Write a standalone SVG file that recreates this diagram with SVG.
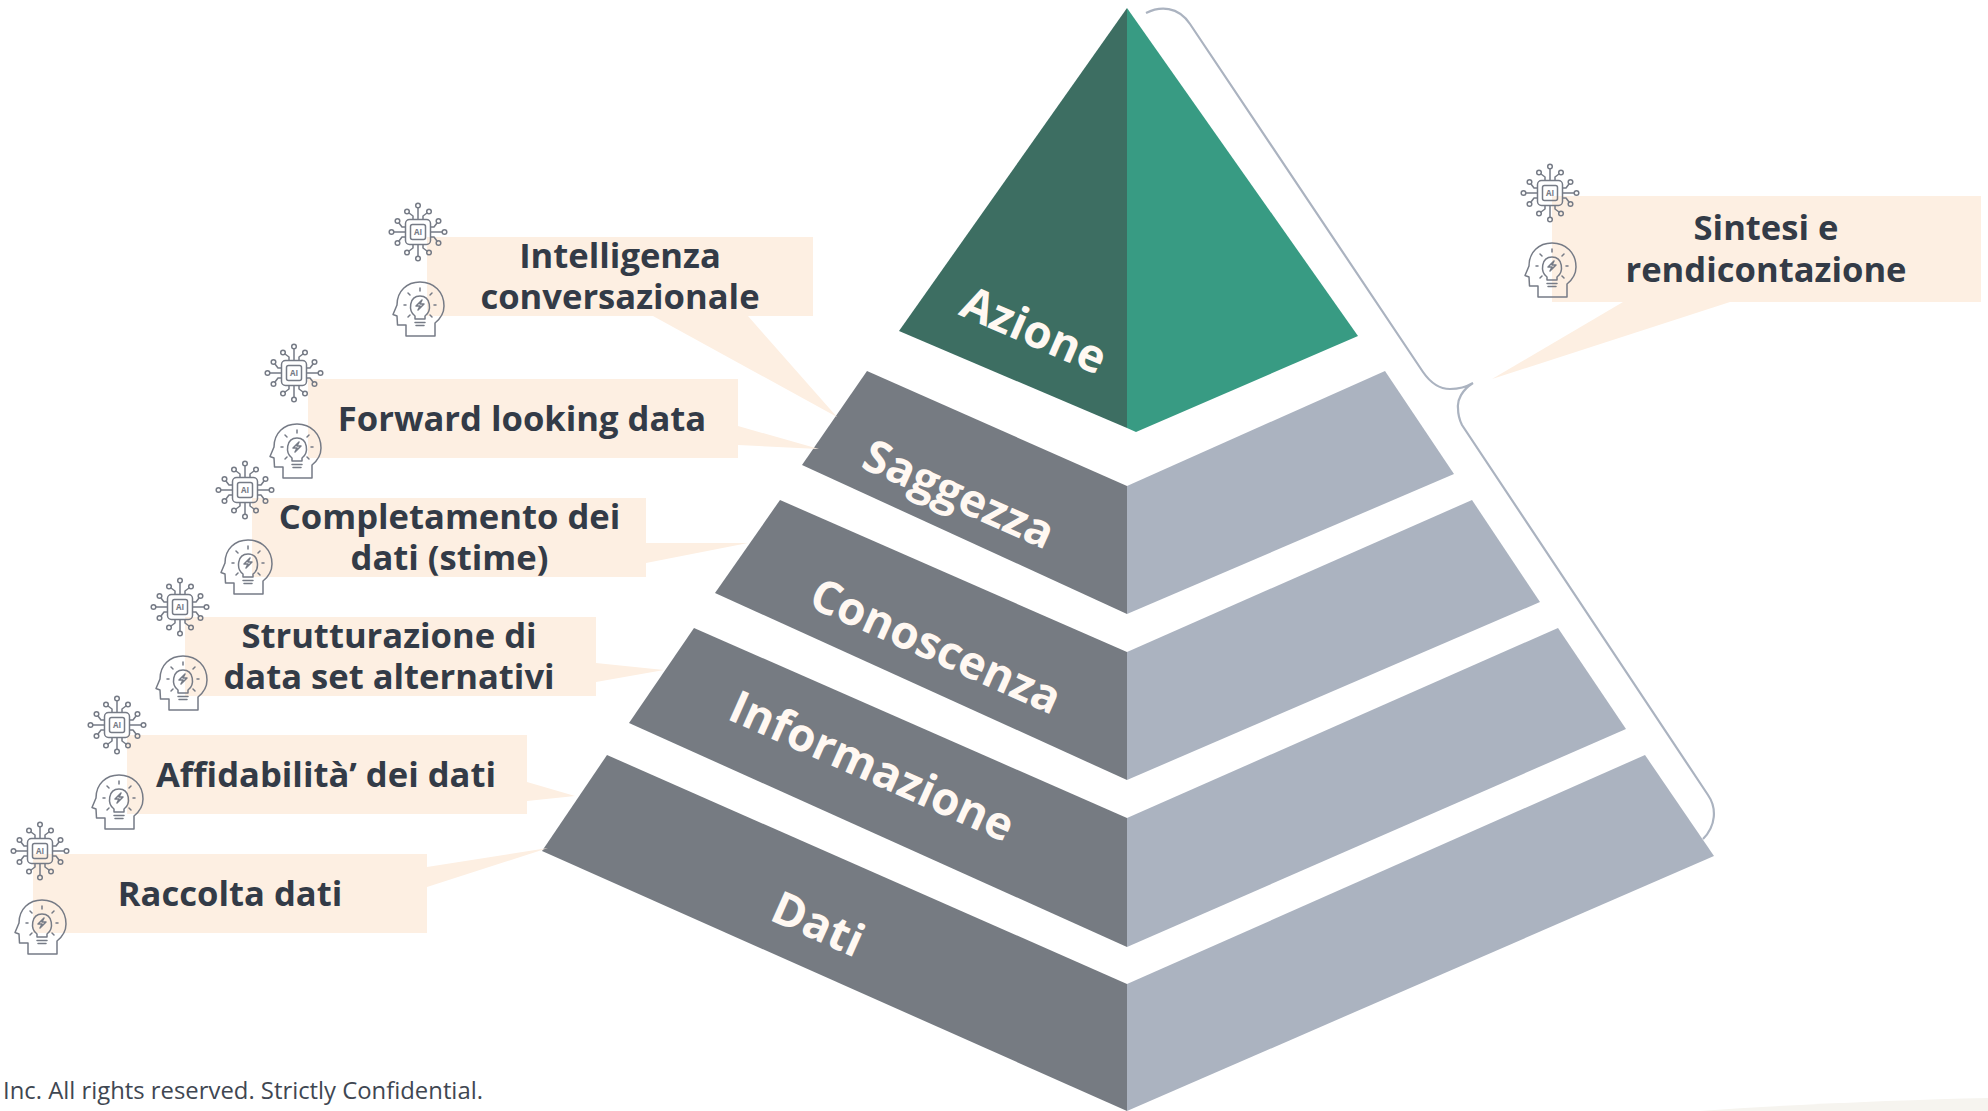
<svg xmlns="http://www.w3.org/2000/svg" xmlns:xlink="http://www.w3.org/1999/xlink" width="1988" height="1111" viewBox="0 0 1988 1111">
<style>
.box,.tail{fill:#fdefe2}
.dk{fill:#767b82}
.lt{fill:#abb3c0}
.t{font-family:"Open Sans","Noto Sans","Liberation Sans",sans-serif;font-weight:700;font-size:34.6px;fill:#333b47;text-anchor:middle}
.p{font-family:"Open Sans","Noto Sans","Liberation Sans",sans-serif;font-weight:700;font-size:45.7px;fill:#fff8f2;text-anchor:middle}
.f{font-family:"Open Sans","Noto Sans","Liberation Sans",sans-serif;font-size:23.85px;fill:#3f4752}
.ic{fill:none;stroke:#767b86;stroke-width:1.5;stroke-linejoin:round;stroke-linecap:round}
.ai{font-family:"Open Sans","Liberation Sans",sans-serif;font-size:8px;font-weight:700;fill:#767b86;text-anchor:middle}
.br{fill:none;stroke:#abb3c0;stroke-width:2.2}
</style>
<defs>
<g id="trace">
<path d="M0,-13V-24M-5,-13V-16L-9,-19M5,-13V-16L9,-19"/>
<circle cx="0" cy="-26.5" r="2.3"/><circle cx="-11" cy="-20.5" r="2.3"/><circle cx="11" cy="-20.5" r="2.3"/>
</g>
<g id="chip" class="ic">
<rect x="-12.5" y="-12.5" width="25" height="25" rx="4"/>
<rect x="-7.5" y="-7.5" width="15" height="15" rx="2"/>
<use xlink:href="#trace" href="#trace"/>
<use xlink:href="#trace" href="#trace" transform="rotate(90)"/>
<use xlink:href="#trace" href="#trace" transform="rotate(180)"/>
<use xlink:href="#trace" href="#trace" transform="rotate(270)"/>
<text class="ai" y="3" stroke="none">AI</text>
</g>
<g id="head" class="ic">
<path d="M-14,31V20H-22.500L-23,11L-27,9.500L-23,0C-23,-14 -13,-23 0,-23C14,-23 24,-13 24,1C24,9 20,14 15,18V31Z"/>
<path d="M-5,11C-12,6 -11,-9 0,-9C11,-9 12,6 5,11V14H-5ZM-5,17.500H5M-4,20.500H4"/>
<path d="M2,-5L-4,1H0L-2,5L4,-1H0Z"/>
<path d="M0,-14V-17M-10,-10L-12,-12M10,-10L12,-12M-14,0H-16M14,0H16M-10,10L-12,12M10,10L12,12"/>
</g>
</defs>
<rect width="1988" height="1111" fill="#fff"/>
<path d="M1700,1111C1800,1104 1900,1100 1988,1098V1111Z" fill="#f6f4ef"/>

<g id="azione">
<polygon fill="#3d6e62" points="1127,8 899,331 1127,428"/>
<polygon fill="#389b83" points="1127,8 1127,428 1136,432 1358,336"/>
<text class="p" transform="translate(1034,330) rotate(23.500)" y="16">Azione</text>
</g>
<g id="saggezza">
<polygon class="dk" points="867,371 802,465 1127,614 1127,486"/>
<polygon class="lt" points="1127,486 1385,371 1454,474 1127,614"/>
<text class="p" transform="translate(959,494) rotate(24)" y="16">Saggezza</text>
</g>
<g id="conoscenza">
<polygon class="dk" points="780,500 715,593 1127,780 1127,652"/>
<polygon class="lt" points="1127,652 1472,500 1540,602 1127,780"/>
<text class="p" transform="translate(936,646) rotate(24)" y="16">Conoscenza</text>
</g>
<g id="informazione">
<polygon class="dk" points="694,628 629,723 1127,947 1127,818"/>
<polygon class="lt" points="1127,818 1558,628 1626,729 1127,947"/>
<text class="p" transform="translate(872,766) rotate(24)" y="16">Informazione</text>
</g>
<g id="dati">
<polygon class="dk" points="607,755 542,851 1127,1111 1127,984"/>
<polygon class="lt" points="1127,984 1645,755 1714,856 1127,1111"/>
<text class="p" transform="translate(818,924) rotate(24)" y="16">Dati</text>
</g>

<g id="connectors">
<path class="br" d="M1146,13C1160,6 1178,6 1190,24L1423,372C1432,385 1442,389 1450,389C1460,389 1468,386 1473,383C1462,390 1457,400 1458,408C1458,415 1460,421 1462,425L1708,795C1717,808 1716,826 1703,839"/>
<polygon class="tail" points="653,316 748,316 837,417"/>
<polygon class="tail" points="738,426 738,445 819,449"/>
<polygon class="tail" points="646,543 646,563 748,543"/>
<polygon class="tail" points="596,663 596,682 664,670"/>
<polygon class="tail" points="527,782 527,801 575,796"/>
<polygon class="tail" points="427,867 427,887 548,848"/>
<polygon class="tail" points="1623,302 1730,302 1492,379"/>
</g>

<g id="intelligenza">
<rect class="box" x="427" y="237" width="386" height="79"/>
<use xlink:href="#chip" href="#chip" x="418" y="232"/><use xlink:href="#head" href="#head" x="420" y="305"/>
<text class="t" x="620" y="268">Intelligenza</text><text class="t" x="620" y="309">conversazionale</text>
</g>
<g id="forward">
<rect class="box" x="308" y="379" width="430" height="79"/>
<use xlink:href="#chip" href="#chip" x="294" y="373"/><use xlink:href="#head" href="#head" x="297" y="447"/>
<text class="t" x="522" y="430.500">Forward looking data</text>
</g>
<g id="completamento">
<rect class="box" x="252" y="498" width="394" height="79"/>
<use xlink:href="#chip" href="#chip" x="245" y="490"/><use xlink:href="#head" href="#head" x="248" y="563"/>
<text class="t" x="449.500" y="528.500">Completamento dei</text><text class="t" x="449.500" y="569.500">dati (stime)</text>
</g>
<g id="strutturazione">
<rect class="box" x="185" y="617" width="411" height="79"/>
<use xlink:href="#chip" href="#chip" x="180" y="607"/><use xlink:href="#head" href="#head" x="183" y="679"/>
<text class="t" x="389" y="647.500">Strutturazione di</text><text class="t" x="389" y="688.500">data set alternativi</text>
</g>
<g id="affidabilita">
<rect class="box" x="127" y="735" width="400" height="79"/>
<use xlink:href="#chip" href="#chip" x="117" y="725"/><use xlink:href="#head" href="#head" x="119" y="798"/>
<text class="t" x="326" y="786.500">Affidabilità’ dei dati</text>
</g>
<g id="raccolta">
<rect class="box" x="33" y="854" width="394" height="79"/>
<use xlink:href="#chip" href="#chip" x="40" y="851"/><use xlink:href="#head" href="#head" x="42" y="923"/>
<text class="t" x="230" y="906">Raccolta dati</text>
</g>
<g id="sintesi">
<rect class="box" x="1552" y="196" width="429" height="106"/>
<use xlink:href="#chip" href="#chip" x="1550" y="193"/><use xlink:href="#head" href="#head" x="1552" y="266"/>
<text class="t" x="1766" y="239.500">Sintesi e</text><text class="t" x="1766" y="281.500">rendicontazione</text>
</g>
<text class="f" x="3" y="1099">Inc. All rights reserved. Strictly Confidential.</text>
</svg>
